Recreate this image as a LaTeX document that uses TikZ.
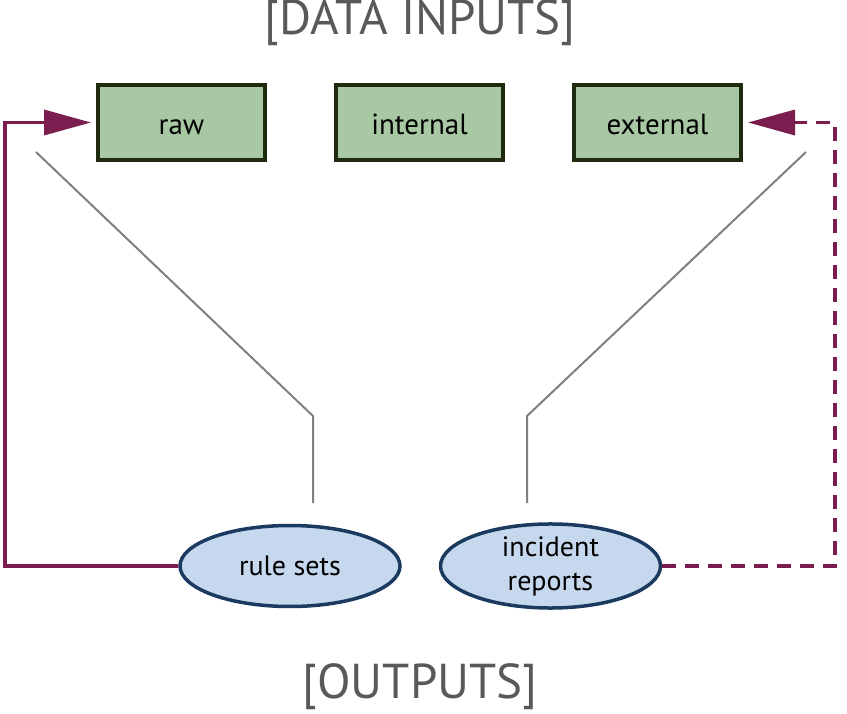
\documentclass[tikz,border=0pt]{standalone}
\usepackage{fontspec}
\setmainfont{PT Sans}
\usetikzlibrary{arrows.meta,positioning,shapes.geometric}

\definecolor{boxfill}{HTML}{A8C8A4}
\definecolor{boxline}{HTML}{1E2A0E}
\definecolor{ovalfill}{HTML}{C6D8EE}
\definecolor{ovalline}{HTML}{1B3A60}
\definecolor{loopcol}{HTML}{7B1D4F}
\definecolor{titlecol}{HTML}{58595B}
\definecolor{guidecol}{HTML}{808080}

\begin{document}
\begin{tikzpicture}[x=1pt,y=-1pt,>={Triangle[length=47pt,width=25pt]},node distance=238pt]
  \tikzstyle{inbox}=[draw=boxline,fill=boxfill,line width=4pt,minimum width=167pt,minimum height=75pt,inner sep=0pt,text height=25pt,text depth=0pt,font=\fontsize{29}{33}\selectfont]
  \tikzstyle{outoval}=[ellipse,draw=ovalline,fill=ovalfill,line width=3.5pt,minimum width=220pt,minimum height=81pt,inner sep=0pt,align=center,font=\fontsize{28}{34}\selectfont]
  \tikzstyle{heading}=[text=titlecol,font=\fontsize{49}{53}\selectfont]
  \tikzstyle{guide}=[draw=guidecol,line width=2pt]
  \tikzstyle{loop}=[draw=loopcol,line width=3.5pt,shorten >=5pt]
  \useasboundingbox (0,0) rectangle (847,714);

  \node[heading] (inputs) at (420,23) {[DATA INPUTS]};
  \node[heading] (outputs) at (420,687) {[OUTPUTS]};

  \node[inbox] (raw) at (181.5,122.5) {raw};
  \node[inbox] (internal) [right=67pt of raw] {internal};
  \node[inbox] (external) [right=67pt of internal] {external};

  \node[outoval] (rules) at (290,566) {rule sets};
  \node[outoval] (reports) [right=37pt of rules] {incident\\reports};

  % guide lines
  \coordinate (gl1) at (36,152);
  \coordinate (gl2) at (313,416);
  \coordinate (gl3) at (313,503);
  \coordinate (gr1) at (806,152);
  \coordinate (gr2) at (527,416);
  \coordinate (gr3) at (527,503);
  \draw[guide] (gl1) -- (gl2) -- (gl3);
  \draw[guide] (gr1) -- (gr2) -- (gr3);

  % feedback loops
  \coordinate (lc) at (5,566);
  \coordinate (rc) at (835,566);
  \draw[loop,->] (rules.west) -- (lc) |- (raw.west);
  \draw[loop,->,dash pattern=on 14pt off 9pt] (reports.east) -- (rc) |- (external.east);
\end{tikzpicture}
\end{document}
